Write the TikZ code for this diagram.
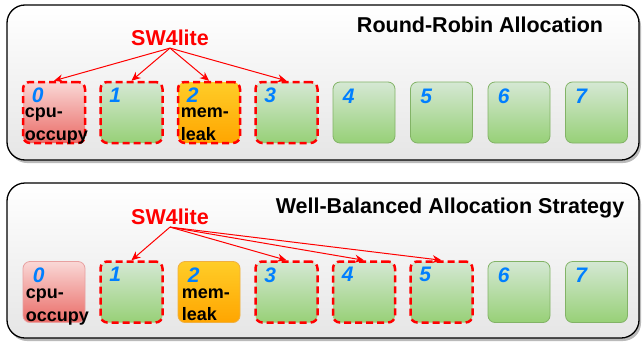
\documentclass[tikz,border=0pt]{standalone}
\usepackage{fontspec}
\setmainfont{Liberation Sans}
\usetikzlibrary{arrows.meta, positioning, shadows}
\definecolor{coregreentop}{HTML}{D5E8D4}
\definecolor{coregreenbot}{HTML}{97D077}
\definecolor{coregreenline}{HTML}{82B366}
\definecolor{cpuredtop}{HTML}{F8CECC}
\definecolor{cpuredbot}{HTML}{EA6B66}
\definecolor{cpuredline}{HTML}{E8A0A0}
\definecolor{memorangetop}{HTML}{FFCD28}
\definecolor{memorangebot}{HTML}{FFA500}
\definecolor{memorangeline}{HTML}{F0B040}
\definecolor{idblue}{HTML}{007FFF}
\tikzstyle{panel} = [rounded corners=18pt, draw=black, line width=1.3pt, top color=white, bottom color=black!10, drop shadow={shadow xshift=2pt, shadow yshift=-3pt, fill=black!45, opacity=0.6}]
\tikzstyle{core} = [rectangle, rounded corners=7pt, minimum width=62pt, minimum height=61pt, draw=coregreenline, line width=0.8pt, top color=coregreentop, bottom color=coregreenbot]
\tikzstyle{cpucore} = [core, draw=cpuredline, top color=cpuredtop!80!white, bottom color=cpuredbot]
\tikzstyle{memcore} = [core, draw=memorangeline, top color=memorangetop, bottom color=memorangebot]
\tikzstyle{picked} = [draw=red, line width=2.5pt, dash pattern=on 7pt off 4pt]
\tikzstyle{coreid} = [inner sep=0pt, text=idblue, font=\fontsize{21}{21}\selectfont\bfseries\itshape]
\tikzstyle{task} = [inner sep=0pt, align=left, font=\fontsize{18}{23}\selectfont\bfseries]
\tikzstyle{title} = [font=\fontsize{21.5}{24}\selectfont\bfseries]
\tikzstyle{sw} = [inner sep=2pt, text=red, font=\fontsize{21.5}{24}\selectfont\bfseries]
\tikzstyle{arrow} = [red, line width=1pt, -{Stealth[length=9pt, width=8pt]}]

\begin{document}
\begin{tikzpicture}[x=1pt, y=-1pt]
            \useasboundingbox (0,0) rectangle (642,343);

            % round-robin panel
            \draw [panel] (7,5) rectangle (639,160);
            \node [title] at (480,25) (rrtitle) {Round-Robin Allocation};
            \node [sw] at (170,38) (rrsw) {SW4lite};

            \node [cpucore, picked] at (54,112.5) (rr0) {};
            \node [core, picked] at (131.5,112.5) (rr1) {};
            \node [memcore, picked] at (209,112.5) (rr2) {};
            \node [core, picked] at (286.5,112.5) (rr3) {};
            \node [core] at (364,112.5) (rr4) {};
            \node [core] at (441.5,112.5) (rr5) {};
            \node [core] at (519,112.5) (rr6) {};
            \node [core] at (596.5,112.5) (rr7) {};

            % well-balanced panel
            \draw [panel] (7,183) rectangle (639,338);
            \node [title] at (450,208) (wbtitle) {Well-Balanced Allocation Strategy};
            \node [sw] at (170,217) (wbsw) {SW4lite};

            \node [cpucore] at (54,292) (wb0) {};
            \node [core, picked] at (131.5,292) (wb1) {};
            \node [memcore] at (209,292) (wb2) {};
            \node [core, picked] at (286.5,292) (wb3) {};
            \node [core, picked] at (364,292) (wb4) {};
            \node [core, picked] at (441.5,292) (wb5) {};
            \node [core] at (519,292) (wb6) {};
            \node [core] at (596.5,292) (wb7) {};

            % core numbers
            \foreach \row in {rr,wb} {
              \foreach \i in {0,...,7} {
                \node [coreid, below right=7pt and 10pt of \row\i.north west] (\row id\i) {\i};
              }
              \node [task, below right=27pt and 3pt of \row0.north west] (\row cpu) {cpu-\\occupy};
              \node [task, below right=27pt and 4pt of \row2.north west] (\row mem) {mem-\\leak};
            }

            \draw [arrow] (rrsw.south) -- (rr0.north);
            \draw [arrow] (rrsw.south) -- (rr1.north);
            \draw [arrow] (rrsw.south) -- (rr2.north);
            \draw [arrow] (rrsw.south) -- (rr3.north);

            \draw [arrow] (wbsw.south) -- (wb1.north);
            \draw [arrow] (wbsw.south) -- (wb3.north);
            \draw [arrow] (wbsw.south) -- (wb4.north);
            \draw [arrow] (wbsw.south) -- (wb5.north);
\end{tikzpicture}
\end{document}
